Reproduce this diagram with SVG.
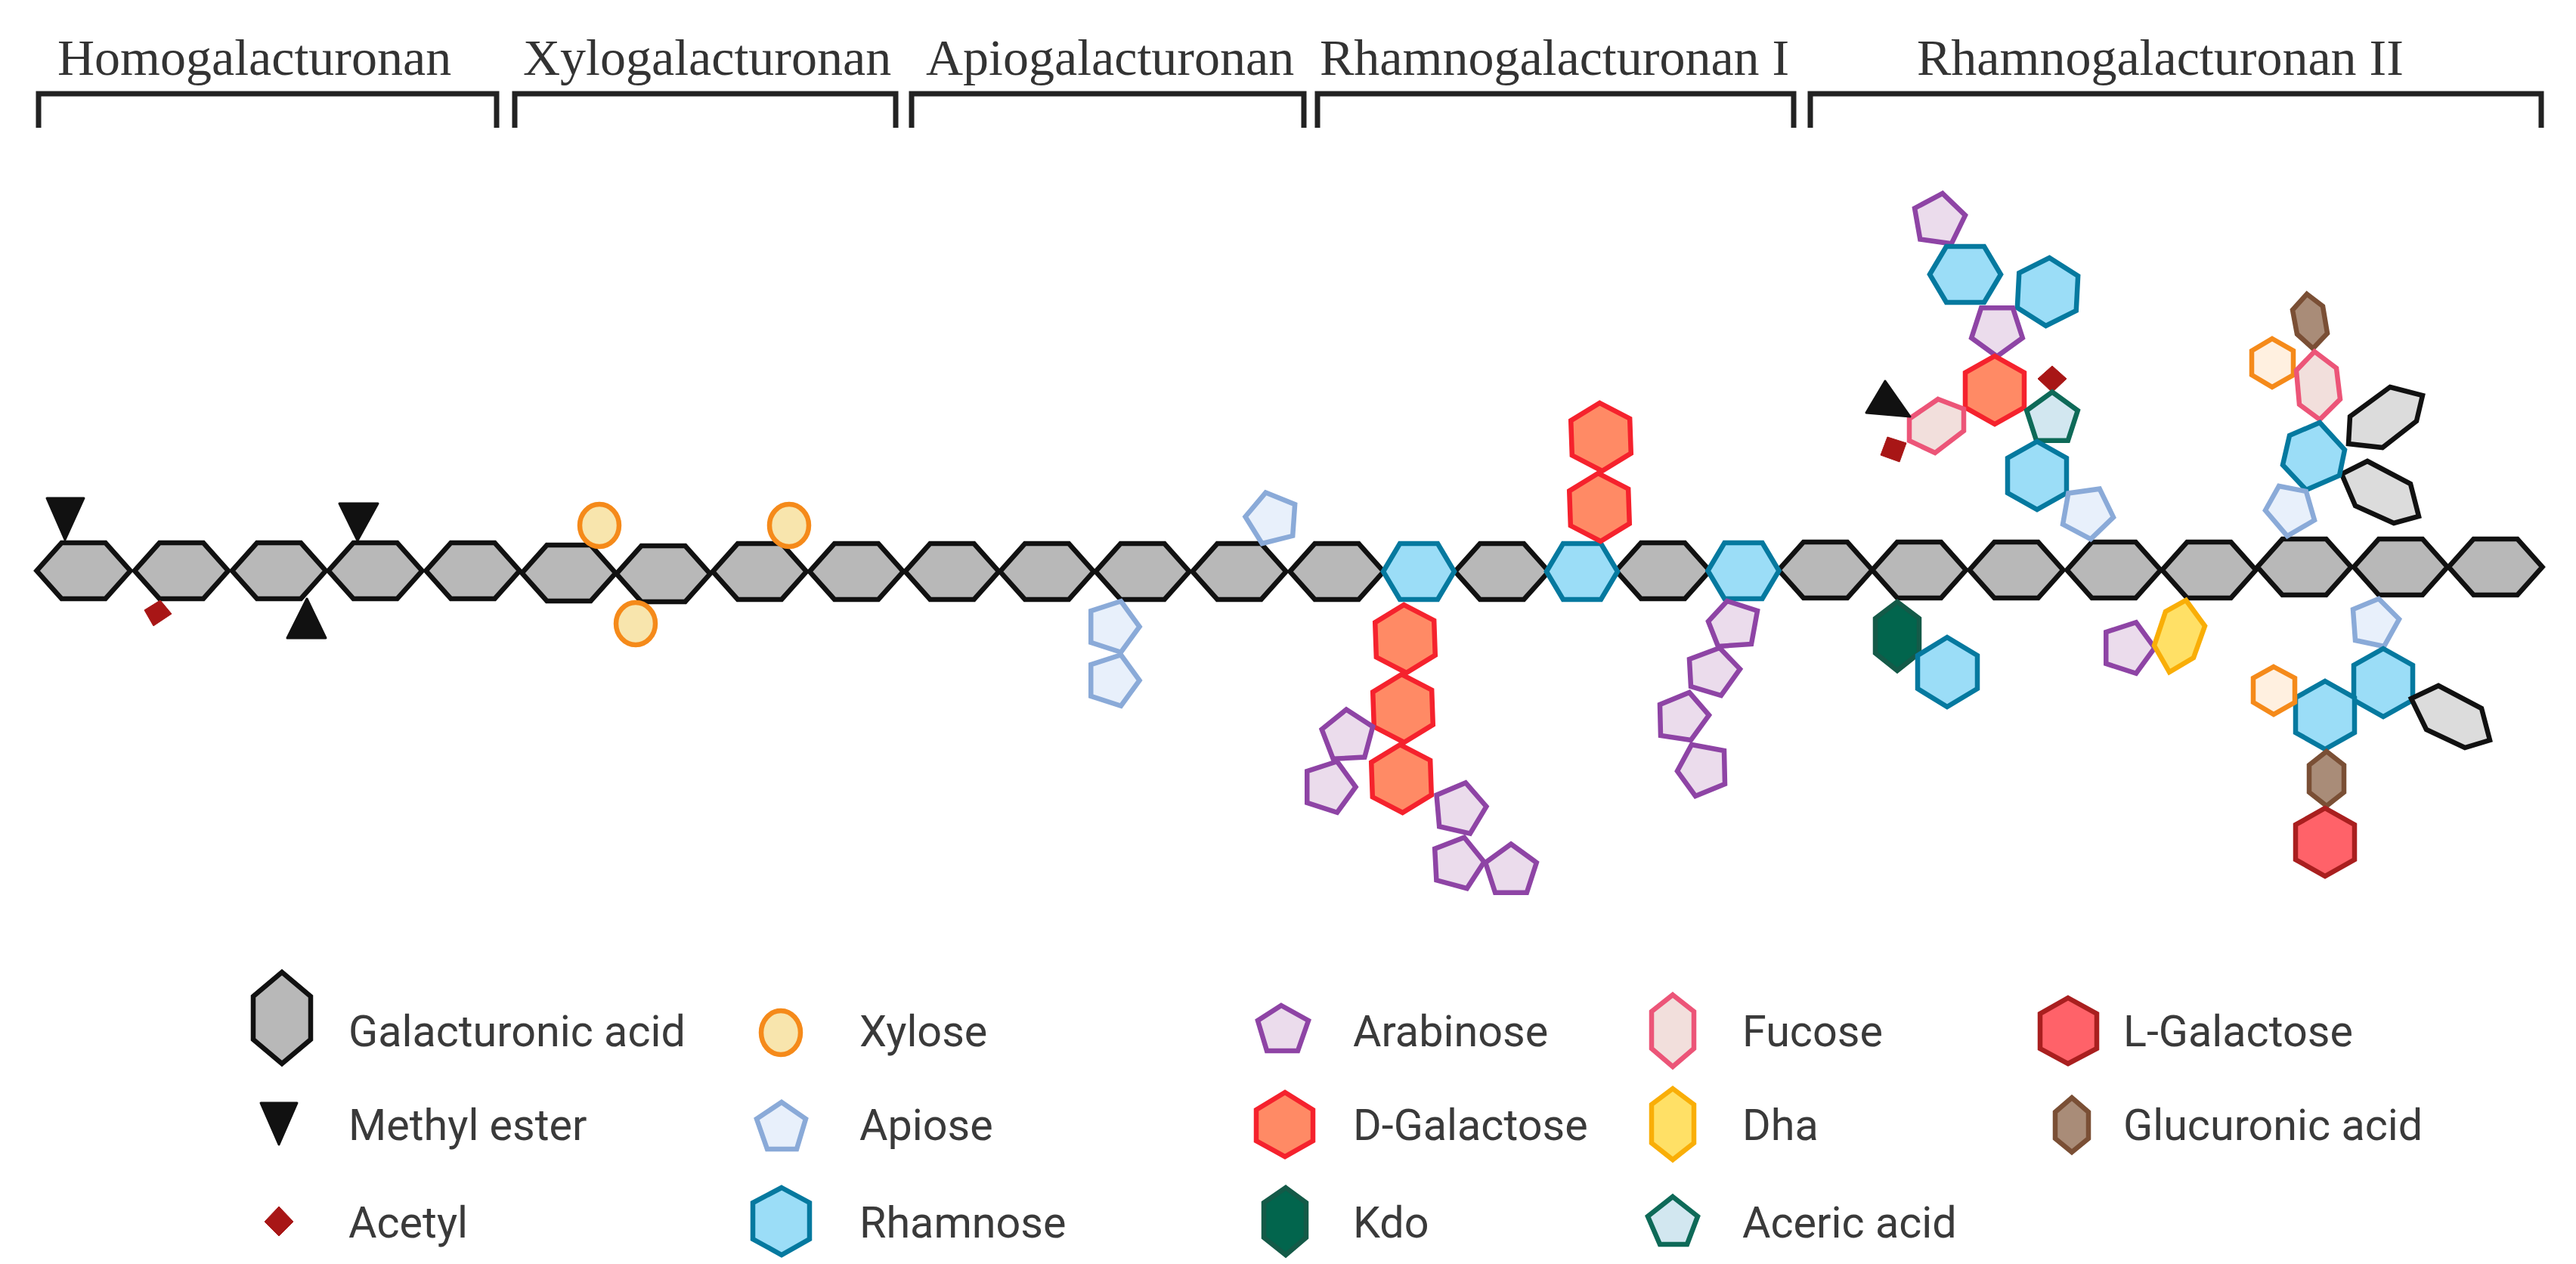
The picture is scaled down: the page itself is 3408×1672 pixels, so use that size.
<svg xmlns="http://www.w3.org/2000/svg" width="3408" height="1672" viewBox="0 0 3408 1672">
<style>
.title{font-family:"Liberation Serif",serif;font-size:68px;fill:#333}
.leg{font-family:Roboto,"Liberation Sans",sans-serif;font-size:57.5px;fill:#3a3a3a}
.br{fill:none;stroke:#222;stroke-width:7;stroke-linejoin:miter}
polygon,ellipse{stroke-width:6.5;stroke-linejoin:miter;stroke-miterlimit:4}
.gal{fill:#b8b8b8;stroke:#111}
.gl{fill:#dcdcdc;stroke:#111}
.rha{fill:#9bddf7;stroke:#05799f}
.dg{fill:#ff8a65;stroke:#f5222d}
.ara{fill:#ebdcec;stroke:#8e44a5}
.api{fill:#e8f0fb;stroke:#8aaad8}
.xyl{fill:#f8e5ad;stroke:#f58a1a}
.oh{fill:#fff0e0;stroke:#f58a1a}
.fuc{fill:#f2dfdc;stroke:#ec5578}
.dha{fill:#ffe066;stroke:#f9ae07}
.kdo{fill:#02654d;stroke:#145a48}
.ace{fill:#d2e7f0;stroke:#0e6a58}
.lg{fill:#ff6269;stroke:#a91f1f}
.glc{fill:#a98c78;stroke:#7a4f35}
polygon.met{fill:#111;stroke:#111;stroke-width:3;stroke-linejoin:round}
polygon.ac{fill:#a81616;stroke:#a81616;stroke-width:1}
</style>
<defs>
<polygon id="hc" points="-62,0 -29,-37 29,-37 62,0 29,37 -29,37"/>
<polygon id="hr" points="-47,0 -25,-37 25,-37 47,0 25,37 -25,37"/>
<polygon id="hv" points="0,-45 39,-23 39,23 0,45 -39,23 -39,-23"/>
<polygon id="pe" points="0,-35.5 33.8,-11 20.9,28.7 -20.9,28.7 -33.8,-11"/>
</defs>
<g id="titles">
<text class="title" x="76" y="99">Homogalacturonan</text>
<text class="title" x="692" y="99">Xylogalacturonan</text>
<text class="title" x="1225" y="99">Apiogalacturonan</text>
<text class="title" x="1746" y="99">Rhamnogalacturonan I</text>
<text class="title" x="2536" y="99">Rhamnogalacturonan II</text>
</g>
<g id="brackets">
<path class="br" d="M51 169V124H657V169"/>
<path class="br" d="M681 169V124H1185V169"/>
<path class="br" d="M1206 169V124H1725V169"/>
<path class="br" d="M1743 169V124H2373V169"/>
<path class="br" d="M2395 169V124H3362V169"/>
</g>
<g id="backbone">
<g id="chain-1"><use href="#hc" class="gal" transform="translate(110.5,755)"/></g>
<g id="chain-2"><use href="#hc" class="gal" transform="translate(240,755)"/></g>
<g id="chain-3"><use href="#hc" class="gal" transform="translate(369,755)"/></g>
<g id="chain-4"><use href="#hc" class="gal" transform="translate(496.5,755)"/></g>
<g id="chain-5"><use href="#hc" class="gal" transform="translate(625.5,755)"/></g>
<g id="chain-6"><use href="#hc" class="gal" transform="translate(752.5,758)"/></g>
<g id="chain-7"><use href="#hc" class="gal" transform="translate(877.5,759)"/></g>
<g id="chain-8"><use href="#hc" class="gal" transform="translate(1005,756)"/></g>
<g id="chain-9"><use href="#hc" class="gal" transform="translate(1133,756)"/></g>
<g id="chain-10"><use href="#hc" class="gal" transform="translate(1259.5,756)"/></g>
<g id="chain-11"><use href="#hc" class="gal" transform="translate(1385,756)"/></g>
<g id="chain-12"><use href="#hc" class="gal" transform="translate(1511.5,756)"/></g>
<g id="chain-13"><use href="#hc" class="gal" transform="translate(1639.5,756)"/></g>
<g id="chain-14"><use href="#hc" class="gal" transform="translate(1768.5,756)"/></g>
<g id="chain-16"><use href="#hc" class="gal" transform="translate(1987,756)"/></g>
<g id="chain-18"><use href="#hc" class="gal" transform="translate(2200,755)"/></g>
<g id="chain-20"><use href="#hc" class="gal" transform="translate(2415,754)"/></g>
<g id="chain-15"><use href="#hr" class="rha" transform="translate(1877,756)"/></g>
<g id="chain-17"><use href="#hr" class="rha" transform="translate(2093,756)"/></g>
<g id="chain-19"><use href="#hr" class="rha" transform="translate(2306.5,755)"/></g>
<g id="chain-21"><use href="#hc" class="gal" transform="translate(2539,754)"/></g>
<g id="chain-22"><use href="#hc" class="gal" transform="translate(2667.5,754)"/></g>
<g id="chain-23"><use href="#hc" class="gal" transform="translate(2796.5,754)"/></g>
<g id="chain-24"><use href="#hc" class="gal" transform="translate(2922.5,754)"/></g>
<g id="chain-25"><use href="#hc" class="gal" transform="translate(3048.5,750)"/></g>
<g id="chain-26"><use href="#hc" class="gal" transform="translate(3176,750)"/></g>
<g id="chain-27"><use href="#hc" class="gal" transform="translate(3301.5,750)"/></g>
</g>
<g id="side-homo">
<g id="me-1"><polygon class="met" points="62,659 111,659 86,714"/></g>
<g id="me-2"><polygon class="met" points="449,666 500,666 473,715"/></g>
<g id="me-3"><polygon class="met" points="406,792 431,844 380,844"/></g>
<g id="ac-1"><polygon class="ac" points="212,794 227,812 203,828 191,807"/></g>
</g>
<g id="side-xylo">
<g id="xyl-1"><ellipse class="xyl" cx="793" cy="695" rx="26" ry="28"/></g>
<g id="xyl-2"><ellipse class="xyl" cx="1044" cy="695" rx="26" ry="28"/></g>
<g id="xyl-3"><ellipse class="xyl" cx="841" cy="825" rx="26" ry="28"/></g>
</g>
<g id="side-apio">
<g id="api-1"><use href="#pe" class="api" transform="translate(1683,686) rotate(-14)"/></g>
<g id="api-2"><use href="#pe" class="api" transform="translate(1472,829) rotate(18)"/></g>
<g id="api-3"><use href="#pe" class="api" transform="translate(1472,900) rotate(18)"/></g>
</g>
<g id="side-rg1">
<g id="dg-1"><use href="#hv" class="dg" transform="translate(1859,845) rotate(-2)"/></g>
<g id="dg-2"><use href="#hv" class="dg" transform="translate(1856,937) rotate(-2)"/></g>
<g id="dg-3"><use href="#hv" class="dg" transform="translate(1854,1030) rotate(-2)"/></g>
<g id="dg-4"><use href="#hv" class="dg" transform="translate(2118,578) rotate(-2)"/></g>
<g id="dg-5"><use href="#hv" class="dg" transform="translate(2116,671) rotate(-2)"/></g>
<g id="ara-1"><use href="#pe" class="ara" transform="translate(1783,974) rotate(-3)"/></g>
<g id="ara-2"><use href="#pe" class="ara" transform="translate(1758,1041) rotate(18)"/></g>
<g id="ara-3"><use href="#pe" class="ara" transform="translate(1931,1070) rotate(13)"/></g>
<g id="ara-4"><use href="#pe" class="ara" transform="translate(1928,1142) rotate(15)"/></g>
<g id="ara-5"><use href="#pe" class="ara" transform="translate(1999,1152)"/></g>
<g id="ara-6"><polygon class="ara" points="2285,795 2325,808 2317,852 2273,855 2260,822"/></g>
<g id="ara-7"><polygon class="ara" points="2275,857 2302,885 2277,920 2237,908 2235,872"/></g>
<g id="ara-8"><polygon class="ara" points="2235,916 2261,946 2237,979 2197,973 2196,932"/></g>
<g id="ara-9"><polygon class="ara" points="2238,985 2281,993 2282,1037 2243,1053 2219,1020"/></g>
</g>
<g id="side-rg2-top-left">
<g id="ara-10"><use href="#pe" class="ara" transform="translate(2565,291) rotate(8)"/></g>
<g id="rha-1"><use href="#hr" class="rha" transform="translate(2600,363)"/></g>
<g id="rha-2"><use href="#hv" class="rha" transform="translate(2709,386) rotate(3)"/></g>
<g id="ara-11"><use href="#pe" class="ara" transform="translate(2642,436) rotate(180)"/></g>
<g id="dg-6"><use href="#hv" class="dg" transform="translate(2639,516)"/></g>
<g id="fuc-1"><polygon class="fuc" points="2564,528 2598,541 2598,570 2560,599 2526,583 2526,554"/></g>
<g id="me-4"><polygon class="met" points="2494,504 2527,551 2469,546"/></g>
<g id="ac-2"><polygon class="ac" points="2497,578 2522,586 2513,611 2488,602"/></g>
<g id="ac-3"><polygon class="ac" points="2715,484 2734,501 2715,519 2696,501"/></g>
<g id="ace-1"><use href="#pe" class="ace" transform="translate(2715,554)"/></g>
<g id="rha-3"><use href="#hv" class="rha" transform="translate(2695,629)"/></g>
<g id="api-4"><use href="#pe" class="api" transform="translate(2761,678) rotate(172)"/></g>
</g>
<g id="side-rg2-top-right">
<g id="glc-1"><polygon class="glc" points="3052,389 3073,405 3079,441 3060,461 3039,442 3033,410"/></g>
<g id="oh-1"><polygon class="oh" points="3006,448 3034,464 3034,496 3006,512 2979,496 2979,464"/></g>
<g id="fuc-2"><polygon class="fuc" points="3062,465 3091,487 3096,528 3069,555 3042,535 3038,490"/></g>
<g id="gl-1"><polygon class="gl" points="3162,512 3205,523 3197,557 3152,592 3107,587 3109,551"/></g>
<g id="gl-2"><polygon class="gl" points="3132,610 3189,640 3200,683 3167,692 3116,669 3098,627"/></g>
<g id="rha-4"><polygon class="rha" points="3069,559 3102,595 3095,629 3051,648 3020,615 3029,576"/></g>
<g id="api-5"><polygon class="api" points="3015,643 3051,650 3062,688 3026,709 2997,675"/></g>
</g>
<g id="side-rg2-bottom">
<g id="kdo-1"><polygon class="kdo" points="2510,796 2539,818 2539,864 2510,887 2481,864 2481,818"/></g>
<g id="rha-5"><polygon class="rha" points="2576,843 2616,867 2616,911 2576,935 2537,911 2537,867"/></g>
<g id="ara-12"><use href="#pe" class="ara" transform="translate(2815,857) rotate(18)"/></g>
<g id="dha-1"><polygon class="dha" points="2892,794 2917,828 2902,870 2870,889 2850,854 2865,809"/></g>
<g id="api-6"><polygon class="api" points="3147,792 3174,819 3154,855 3116,847 3113,806"/></g>
<g id="rha-6"><use href="#hv" class="rha" transform="translate(3153,903)"/></g>
<g id="rha-7"><use href="#hv" class="rha" transform="translate(3076,946)"/></g>
<g id="oh-2"><polygon class="oh" points="3008,882 3036,897 3036,929 3008,945 2981,929 2981,897"/></g>
<g id="gl-3"><polygon class="gl" points="3226,907 3283,937 3294,979 3261,989 3210,965 3190,924"/></g>
<g id="glc-2"><polygon class="glc" points="3078,994 3101,1012 3101,1048 3078,1066 3055,1048 3055,1012"/></g>
<g id="lg-1"><use href="#hv" class="lg" transform="translate(3076,1114)"/></g>
</g>
<g id="legend">
<g id="leg-galacturonic"><polygon class="gal" points="373,1286 411,1318 411,1375 373,1407 335,1375 335,1318"/><text class="leg" x="461" y="1384">Galacturonic acid</text></g>
<g id="leg-methyl"><polygon class="met" points="345,1459 393,1459 369,1514"/><text class="leg" x="461" y="1508">Methyl ester</text></g>
<g id="leg-acetyl"><polygon class="ac" points="369,1596 388,1616 369,1635 350,1616"/><text class="leg" x="461" y="1637">Acetyl</text></g>
<g id="leg-xylose"><ellipse class="xyl" cx="1033" cy="1366" rx="26" ry="29"/><text class="leg" x="1137" y="1384">Xylose</text></g>
<g id="leg-apiose"><polygon class="api" points="1034,1458 1066,1480 1054,1520 1015,1520 1001,1480"/><text class="leg" x="1137" y="1508">Apiose</text></g>
<g id="leg-rhamnose"><polygon class="rha" points="1034,1571 1071,1591 1071,1639 1034,1660 996,1639 996,1591"/><text class="leg" x="1137" y="1637">Rhamnose</text></g>
<g id="leg-arabinose"><polygon class="ara" points="1695,1330 1731,1350 1717,1390 1676,1390 1664,1350"/><text class="leg" x="1790" y="1384">Arabinose</text></g>
<g id="leg-dgal"><polygon class="dg" points="1700,1445 1737,1468 1737,1509 1700,1530 1662,1509 1662,1468"/><text class="leg" x="1790" y="1508">D-Galactose</text></g>
<g id="leg-kdo"><polygon class="kdo" points="1701,1571 1728,1591 1728,1637 1701,1660 1672,1637 1672,1591"/><text class="leg" x="1790" y="1637">Kdo</text></g>
<g id="leg-fucose"><polygon class="fuc" points="2213,1316 2241,1338 2241,1387 2213,1411 2185,1387 2185,1338"/><text class="leg" x="2305" y="1384">Fucose</text></g>
<g id="leg-dha"><polygon class="dha" points="2213,1440 2241,1461 2241,1512 2213,1534 2185,1512 2185,1461"/><text class="leg" x="2305" y="1508">Dha</text></g>
<g id="leg-aceric"><polygon class="ace" points="2213,1583 2246,1609 2232,1646 2196,1646 2180,1609"/><text class="leg" x="2305" y="1637">Aceric acid</text></g>
<g id="leg-lgal"><polygon class="lg" points="2736,1320 2774,1341 2774,1387 2736,1407 2699,1387 2699,1341"/><text class="leg" x="2809" y="1384">L-Galactose</text></g>
<g id="leg-glucuronic"><polygon class="glc" points="2741,1452 2763,1471 2763,1506 2741,1524 2719,1506 2719,1471"/><text class="leg" x="2809" y="1508">Glucuronic acid</text></g>
</g>
</svg>
